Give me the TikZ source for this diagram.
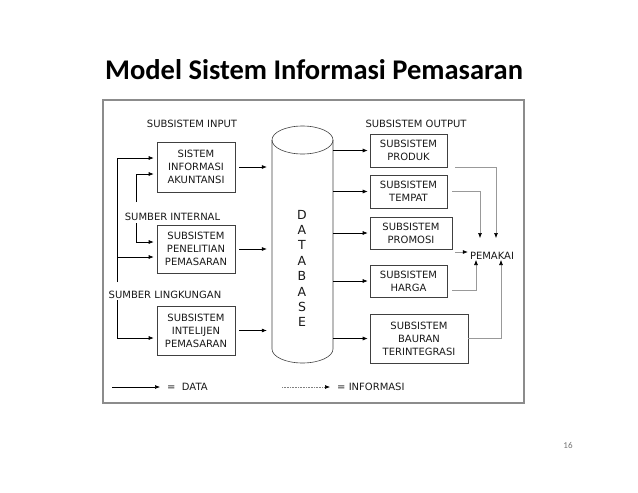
\documentclass[tikz,border=0pt]{standalone}
\usepackage{fontspec}
\setmainfont{DejaVu Sans}
\newfontfamily\titlefont{Carlito}
\usetikzlibrary{arrows.meta,calc}
\begin{document}
\begin{tikzpicture}[x=1pt,y=-1pt,
  box/.style={draw=black!75, line width=0.6pt, align=center, inner sep=0pt, font=\fontsize{10}{13}\selectfont, text=black!90},
  lbl/.style={font=\fontsize{10}{13}\selectfont, text=black!90, inner sep=1pt},
  arr/.style={line width=0.6pt, -{Latex[length=5pt,width=4pt]}},
  info/.style={draw=black!40, line width=0.6pt, -{Latex[length=5pt,width=4pt,color=black]}},
  infodot/.style={draw=black!50, line width=0.6pt, densely dotted, -{Latex[length=5pt,width=4pt,color=black]}},
  dbline/.style={draw=black!75, line width=0.6pt},
]
\useasboundingbox (0,0) rectangle (638,493);
% title
\node[anchor=base west, inner sep=0pt, font=\titlefont\bfseries\fontsize{28.5}{32}\selectfont] (title) at (105,79) {Model Sistem Informasi Pemasaran};
\node[font=\titlefont\fontsize{9}{11}\selectfont, text=black!55] (page) at (568,445) {16};
% frame
\draw[draw=black!45, line width=2pt] (103,100) rectangle (524,403);

% input boxes
\node[box, minimum width=78pt, minimum height=50pt] (ak) at (196,167) {SISTEM\\INFORMASI\\AKUNTANSI};
\node[box, minimum width=78pt, minimum height=48pt] (pen) at (196,249) {SUBSISTEM\\PENELITIAN\\PEMASARAN};
\node[box, minimum width=78pt, minimum height=49pt] (int) at (196,330.5) {SUBSISTEM\\INTELIJEN\\PEMASARAN};

% output boxes
\node[box, minimum width=77pt, minimum height=33pt] (produk) at (408.5,150.5) {SUBSISTEM\\PRODUK};
\node[box, minimum width=77pt, minimum height=33pt] (tempat) at (408.5,191.5) {SUBSISTEM\\TEMPAT};
\node[box, minimum width=82pt, minimum height=32pt] (promosi) at (411,233) {SUBSISTEM\\PROMOSI};
\node[box, minimum width=77pt, minimum height=32pt] (harga) at (408.5,281) {SUBSISTEM\\HARGA};
\node[box, minimum width=98pt, minimum height=49pt] (bauran) at (419,338.5) {SUBSISTEM\\BAURAN\\TERINTEGRASI};

% database
\node[minimum width=61pt, minimum height=237pt, inner sep=0pt] (db) at (302.5,244.5) {};
\draw[dbline] (272,140) -- (272,349) arc[start angle=180, end angle=360, x radius=30.5pt, y radius=14pt] -- (333,140);
\draw[dbline] (302.5,140) ellipse [x radius=30.5pt, y radius=14pt];
\node[font=\fontsize{12.5}{15.4}\selectfont, align=center, inner sep=0pt, text=black!90] (dbtext) at (302,268.5) {D\\A\\T\\A\\B\\A\\S\\E};

% labels
\node[lbl] (sin) at (192,124) {SUBSISTEM INPUT};
\node[lbl] (si) at (172.5,217) {SUMBER INTERNAL};
\node[lbl] (sl) at (165,295) {SUMBER LINGKUNGAN};
\node[lbl] (sout) at (416,124) {SUBSISTEM OUTPUT};
\node[lbl] (pem) at (492,256) {PEMAKAI};

% inputs to database
\draw[arr] ([xshift=4pt]ak.east) -- ([xshift=-5pt]ak.east -| db.west);
\draw[arr] ([xshift=4pt]pen.east) -- ([xshift=-5pt]pen.east -| db.west);
\draw[arr] ([xshift=4pt]int.east) -- ([xshift=-5pt]int.east -| db.west);

% database to outputs
\draw[arr] (db.east |- produk.west) -- ([xshift=-2pt]produk.west);
\draw[arr] (db.east |- tempat.west) -- ([xshift=-2pt]tempat.west);
\draw[arr] (db.east |- promosi.west) -- ([xshift=-2pt]promosi.west);
\draw[arr] (db.east |- harga.west) -- ([xshift=-2pt]harga.west);
\draw[arr] (db.east |- bauran.west) -- ([xshift=-2pt]bauran.west);

% sources
\coordinate (a1) at (117,158);
\coordinate (a2) at (117,257);
\coordinate (a3) at (117,282);
\coordinate (a4) at (117,300);
\coordinate (a5) at (117,338);
\draw[arr] (a3) |- ([xshift=-3pt]ak.west |- a1);
\draw[arr] (a2) -- ([xshift=-3pt]pen.west |- a2);
\draw[arr] (a4) |- ([xshift=-3pt]int.west |- a5);
\coordinate (b1) at (136,202);
\coordinate (b2) at (136,174);
\coordinate (b3) at (136,223);
\coordinate (b4) at (136,242);
\draw[arr] (b1) |- ([xshift=-3pt]ak.west |- b2);
\draw[arr] (b3) |- ([xshift=-3pt]pen.west |- b4);

% outputs to user
\coordinate (r1) at (496,238);
\coordinate (r2) at (480,238);
\coordinate (r3) at (455,252);
\coordinate (r4) at (476,260);
\coordinate (r5) at (501,260);
\draw[info] ([xshift=8pt]produk.south east) -| (r1);
\draw[info] ([xshift=5pt]tempat.east) -| (r2);
\draw[info] (r3) -- ([xshift=-1pt]pem.west |- r3);
\draw[info] ([xshift=5pt,yshift=-9pt]harga.east) -| (r4);
\draw[info] (bauran.east) -| (r5);

% legend
\coordinate (lg1) at (112,387);
\coordinate (lg2) at (160,387);
\coordinate (lg3) at (282,387);
\coordinate (lg4) at (330,387);
\draw[arr] (lg1) -- (lg2);
\node[lbl, anchor=west] (ldata) at (166,387) {=\ \ DATA};
\draw[infodot] (lg3) -- (lg4);
\node[lbl, anchor=west] (linfo) at (336,387) {= INFORMASI};
\end{tikzpicture}
\end{document}
